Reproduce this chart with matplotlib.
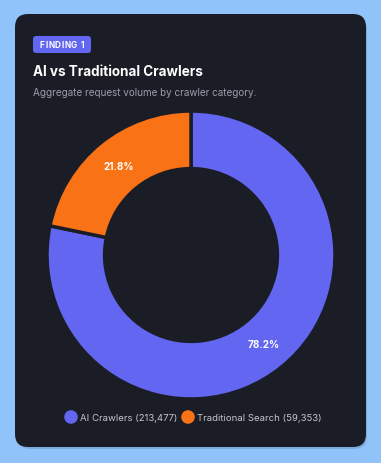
import matplotlib
matplotlib.use("Agg")
import numpy as np
from matplotlib import pyplot as plt
from matplotlib.patches import FancyBboxPatch

plt.rcParams['font.family'] = ['Inter', 'DejaVu Sans']

categories = ['AI Crawlers', 'Traditional Search']
requests = [213477, 59353]
colors = ['#6366f1', '#f97316']

W, H = 381, 464
fig = plt.figure(figsize=(W / 100, H / 100), dpi=100)
fig.patch.set_facecolor('#8fc3f9')

# full-figure axes in pixel coords for the card and texts
bg = fig.add_axes([0, 0, 1, 1])
bg.set_xlim(0, W)
bg.set_ylim(H, 0)
bg.axis('off')

card_col = '#1b1d26'
bg.add_patch(FancyBboxPatch((17, 18), 350, 432, boxstyle='round,pad=0,rounding_size=13',
                            facecolor='#000000', alpha=0.12, edgecolor='none'))
bg.add_patch(FancyBboxPatch((15, 15), 351, 433, boxstyle='round,pad=0,rounding_size=13',
                            facecolor=card_col, edgecolor='none'))

# badge with letter spacing
bg.add_patch(FancyBboxPatch((33, 37), 58, 17, boxstyle='round,pad=0,rounding_size=3',
                            facecolor='#6366f1', edgecolor='none'))
renderer = fig.canvas.get_renderer()
badge = 'FINDING 1'
widths = []
for ch in badge:
    t = bg.text(0, 0, ch, fontsize=5.9, fontweight='bold')
    widths.append(t.get_window_extent(renderer).width if ch != ' ' else 2.3)
    t.remove()
track = 0.6
total_w = sum(widths) + track * (len(badge) - 1)
x = 62 - total_w / 2
for ch, w in zip(badge, widths):
    bg.text(x, 45.8, ch, color='white', fontsize=5.9, fontweight='bold',
            ha='left', va='center')
    x += w + track

bg.text(33, 71.5, 'AI vs Traditional Crawlers', color='white', fontsize=9.7,
        fontweight='bold', ha='left', va='center')
bg.text(33, 93, 'Aggregate request volume by crawler category.', color='#9a9da8',
        fontsize=7.15, ha='left', va='center')

# donut
cx, cy, r = 191, 256, 144
ax = fig.add_axes([(cx - r) / W, (H - cy - r) / H, 2 * r / W, 2 * r / H])
ax.axis('off')
total = sum(requests)
ax.pie(requests, colors=colors, startangle=90, counterclock=False, radius=1,
       wedgeprops=dict(width=0.4, edgecolor=card_col, linewidth=2.5))
start = 90.0
for v in requests:
    frac = v / total
    mid = np.deg2rad(start - frac * 360 / 2)
    ax.text(0.8 * np.cos(mid), 0.8 * np.sin(mid), f'{frac * 100:.1f}%', color='white',
            fontsize=7.2, fontweight='bold', ha='center', va='center')
    start -= frac * 360
ax.set_xlim(-1, 1)
ax.set_ylim(-1, 1)

# legend
lx = [71, 188]
for x, c, name, v in zip(lx, colors, categories, requests):
    bg.scatter([x], [418], s=95, color=c, edgecolors='none')
    bg.text(x + 9, 418.5, f'{name} ({v:,})', color='#c3c6cf', fontsize=6.9,
            ha='left', va='center')

fig.savefig('out.png', dpi=100, facecolor=fig.get_facecolor())
